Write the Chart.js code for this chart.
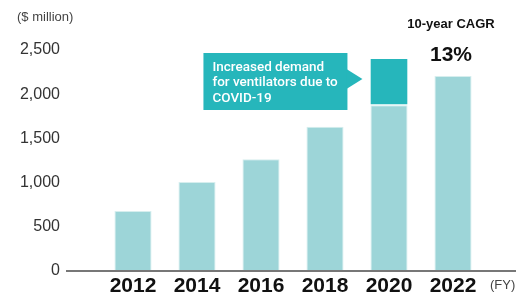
<!DOCTYPE html>
<html>
<head>
<meta charset="utf-8">
<script src="https://cdn.jsdelivr.net/npm/chart.js@4.4.1/dist/chart.umd.min.js"></script>
<style>
  html, body { margin: 0; padding: 0; background: #fff; }
  #wrap { width: 516px; height: 296px; }
</style>
</head>
<body>
<div id="wrap"><canvas id="chart" width="516" height="296"></canvas></div>
<script>
// data
const years = ['2012', '2014', '2016', '2018', '2020', '2022'];
const baseSales = [680, 1008, 1264, 1632, 1874, 2206];
const covidExtra = [0, 0, 0, 0, 524, 0];
const yTicks = [0, 500, 1000, 1500, 2000, 2500];

const lightTeal = '#9dd5d8';
const darkTeal = '#26b6bb';

// callout, unit labels and axis line
const extras = {
    id: 'extras',
    afterDraw(chart) {
        const ctx = chart.ctx;
        const x = chart.scales.x, y = chart.scales.y;
        ctx.save();

        // baseline
        ctx.strokeStyle = '#777';
        ctx.lineWidth = 2;
        ctx.beginPath();
        ctx.moveTo(66, y.getPixelForValue(0));
        ctx.lineTo(516, y.getPixelForValue(0));
        ctx.stroke();

        ctx.fillStyle = '#444';
        ctx.font = '13px "Liberation Sans", Arial, sans-serif';
        ctx.textBaseline = 'middle';
        ctx.textAlign = 'left';
        ctx.fillText('($ million)', 17, 17);
        ctx.fillText('(FY)', 490, 285);

        // CAGR label over the last bar
        const cx = x.getPixelForValue(5);
        ctx.fillStyle = '#111';
        ctx.textAlign = 'center';
        ctx.font = 'bold 13px "Liberation Sans", Arial, sans-serif';
        ctx.fillText('10-year CAGR', cx - 2, 24);
        ctx.font = 'bold 21px "Liberation Sans", Arial, sans-serif';
        ctx.fillText('13%', cx - 2, 55);

        // callout box pointing at the 2020 bar
        const meta = chart.getDatasetMeta(0).data[4];
        const barLeft = meta.x - meta.width / 2;
        const tipX = barLeft - 8;
        const tipY = y.getPixelForValue(baseSales[4] + covidExtra[4] * 0.57);
        const boxR = tipX - 15, boxL = boxR - 144;
        const boxT = 53, boxB = 110;
        ctx.fillStyle = darkTeal;
        ctx.fillRect(boxL, boxT, boxR - boxL, boxB - boxT);
        ctx.beginPath();
        ctx.moveTo(boxR - 1, tipY - 10);
        ctx.lineTo(tipX, tipY);
        ctx.lineTo(boxR - 1, tipY + 10);
        ctx.closePath();
        ctx.fill();

        ctx.fillStyle = '#fff';
        ctx.textAlign = 'left';
        ctx.font = '500 13.5px Roboto, "Liberation Sans", sans-serif';
        ctx.fillText('Increased demand', boxL + 9, 67.5);
        ctx.fillText('for ventilators due to', boxL + 9, 83);
        ctx.fillText('COVID-19', boxL + 9, 98.5);

        ctx.restore();
    }
};

new Chart(document.getElementById('chart'), {
    type: 'bar',
    data: {
        labels: years,
        datasets: [
            {
                data: baseSales,
                backgroundColor: lightTeal,
                borderColor: '#d6eeee',
                borderWidth: 1,
                barPercentage: 0.58,
                categoryPercentage: 1
            },
            {
                data: covidExtra,
                backgroundColor: darkTeal,
                borderColor: '#ffffff',
                borderWidth: { top: 0, bottom: 1, left: 0, right: 0 },
                borderSkipped: false,
                barPercentage: 0.58,
                categoryPercentage: 1
            }
        ]
    },
    options: {
        responsive: false,
        animation: false,
        layout: { padding: { top: 50, right: 31, bottom: 0, left: 0 } },
        plugins: { legend: { display: false }, tooltip: { enabled: false } },
        scales: {
            x: {
                stacked: true,
                grid: { display: false, drawTicks: false },
                border: { display: false },
                ticks: {
                    color: '#111',
                    padding: 3,
                    maxRotation: 0,
                    font: { family: '"Liberation Sans", Arial, sans-serif', size: 21, weight: 'bold' }
                },
                afterFit(scale) { scale.height = 25; }
            },
            y: {
                stacked: true,
                min: 0,
                max: 2500,
                grid: { display: false, tickLength: 37 },
                border: { display: false },
                afterBuildTicks(scale) { scale.ticks = yTicks.map(v => ({ value: v })); },
                ticks: {
                    color: '#333',
                    padding: 4,
                    font: { family: '"Liberation Sans", Arial, sans-serif', size: 16 },
                    callback: v => v.toLocaleString('en-US')
                },
                afterFit(scale) { scale.width = 101; }
            }
        }
    },
    plugins: [extras]
});
</script>
</body>
</html>
